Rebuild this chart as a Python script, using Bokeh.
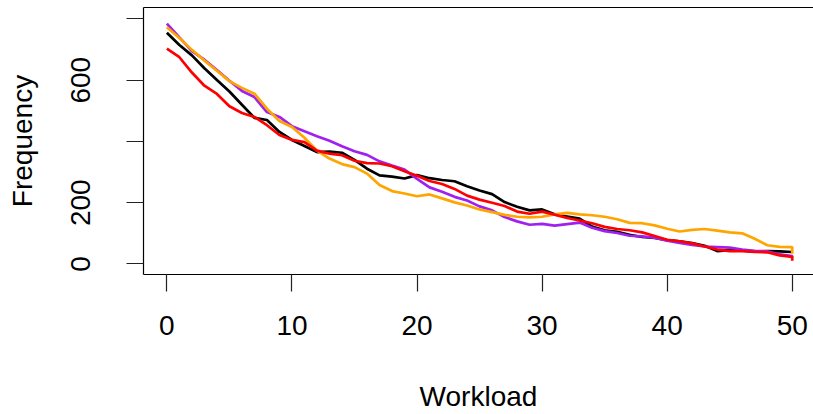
import math
from bokeh.plotting import figure
from bokeh.models import LinearAxis, FixedTicker, Range1d
from bokeh.embed import file_html
from bokeh.resources import INLINE

# ---- data ----
workload = list(range(0, 51)) + [50]

black = [755, 715, 681, 639, 601, 563, 520, 477, 470, 431,
         405, 385, 365, 367, 363, 340, 311, 289, 285, 279,
         290, 280, 274, 270, 254, 240, 228, 202, 187, 175,
         178, 162, 155, 148, 122, 110, 105, 95, 88, 85,
         78, 74, 68, 59, 42, 45, 44, 40, 42, 41,
         39, 39]

purple = [785, 740, 695, 667, 633, 598, 565, 545, 496, 480,
          450, 433, 417, 402, 384, 368, 356, 335, 321, 308,
          278, 250, 236, 219, 207, 188, 175, 153, 139, 128,
          131, 125, 130, 135, 118, 107, 101, 92, 90, 86,
          76, 69, 62, 57, 55, 53, 47, 43, 41, 31,
          26, 22]

orange = [773, 738, 699, 664, 631, 597, 575, 556, 507, 467,
          447, 412, 370, 344, 326, 316, 295, 258, 238, 230,
          221, 227, 214, 201, 191, 178, 169, 160, 154, 152,
          154, 162, 167, 162, 159, 154, 146, 134, 133, 126,
          115, 106, 111, 114, 109, 103, 100, 82, 61, 56,
          55, 33]

red = [703, 675, 625, 582, 555, 515, 493, 480, 453, 421,
       405, 398, 370, 360, 355, 337, 329, 328, 319, 303,
       288, 271, 261, 245, 223, 210, 200, 189, 171, 164,
       171, 161, 150, 142, 133, 121, 114, 110, 103, 91,
       79, 74, 67, 57, 47, 42, 42, 39, 38, 28,
       23, 10]

x_ticks = [0, 10, 20, 30, 40, 50]
y_ticks = [0, 200, 400, 600, 800]
y_hidden = {400: "", 800: ""}

series = [(black, "#000000"), (purple, "#A020F0"), (orange, "#FFA500"), (red, "#FF0000")]

FONT = "Liberation Sans"
FS = "28px"

p = figure(width=813, height=414, output_backend="svg", toolbar_location=None,
           x_range=Range1d(-1.87, 51.7), y_range=Range1d(-34.5, 837.4),
           min_border_left=143, min_border_right=0, min_border_top=7,
           min_border_bottom=137, x_axis_location=None, y_axis_location=None)
p.grid.visible = False
p.outline_line_color = None
p.background_fill_color = "white"
p.border_fill_color = "white"

for vals, col in series:
    p.line(workload, vals, line_color=col, line_width=2.7)

def style(ax):
    ax.axis_line_color = "black"
    ax.axis_line_width = 1.2
    ax.major_tick_line_color = "#222222"
    ax.major_tick_line_width = 1.2
    ax.major_tick_in = 0
    ax.major_tick_out = 17
    ax.minor_tick_line_color = None
    ax.major_label_text_font = FONT
    ax.major_label_text_font_size = FS
    ax.major_label_text_color = "black"
    ax.axis_label_text_font = FONT
    ax.axis_label_text_font_size = FS
    ax.axis_label_text_font_style = "normal"
    ax.axis_label_text_color = "black"

xa = LinearAxis(ticker=FixedTicker(ticks=x_ticks), axis_label="Workload")
style(xa)
xa.major_label_standoff = 24
xa.axis_label_standoff = 43
p.add_layout(xa, "below")

ya = LinearAxis(ticker=FixedTicker(ticks=y_ticks), axis_label="Frequency")
style(ya)
ya.major_label_orientation = "parallel"
ya.major_label_overrides = y_hidden
ya.major_label_standoff = 36
ya.axis_label_standoff = 31
p.add_layout(ya, "left")

top = LinearAxis(ticker=FixedTicker(ticks=[]))
top.axis_line_color = "black"
top.axis_line_width = 1.2
top.major_tick_line_color = None
top.minor_tick_line_color = None
top.major_label_text_font_size = "0px"
top.major_label_standoff = 0
p.add_layout(top, "above")

open("out.html", "w").write(file_html(p, INLINE))
